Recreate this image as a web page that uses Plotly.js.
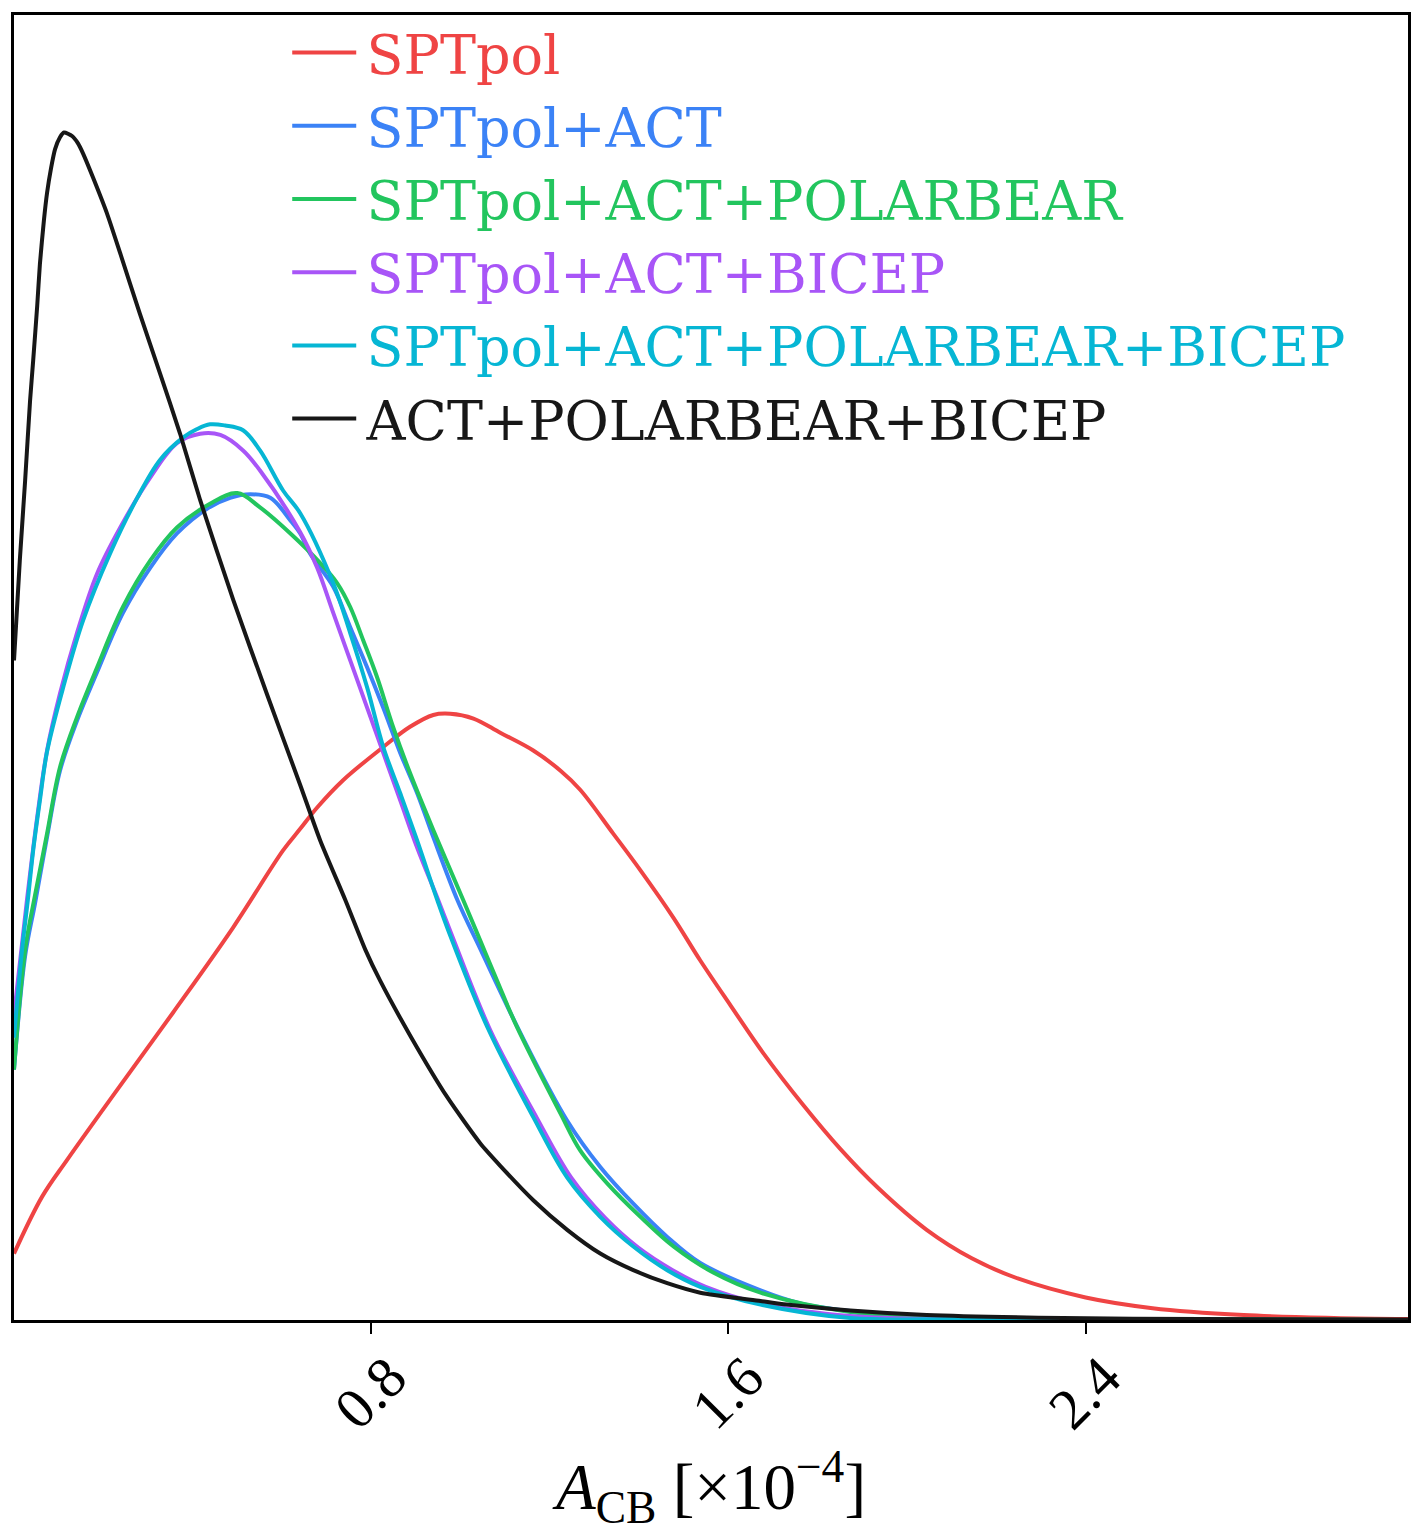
<!DOCTYPE html>
<html>
<head>
<meta charset="utf-8">
<script src="https://cdn.plot.ly/plotly-3.0.1.min.js"></script>
<style>html,body{margin:0;padding:0;background:#fff}</style>
</head>
<body>
<div id="plot" style="width:1422px;height:1533px"></div>
<script>
// A_CB posterior, units of 1e-4, densities normalised to the tallest peak
const sptpolX = [0, 0.063, 0.119, 0.231, 0.356, 0.491, 0.603, 0.641, 0.679, 0.737, 0.827, 0.887, 0.939, 0.977, 1.029, 1.089, 1.163, 1.224, 1.268, 1.342, 1.403, 1.477, 1.537, 1.605, 1.678, 1.768, 1.851, 1.936, 2.044, 2.145, 2.248, 2.400, 2.550, 2.754, 2.956, 3.124]
const sptpolY = [0.056, 0.104, 0.135, 0.194, 0.259, 0.331, 0.396, 0.414, 0.432, 0.455, 0.483, 0.500, 0.510, 0.511, 0.507, 0.495, 0.480, 0.463, 0.447, 0.410, 0.379, 0.339, 0.303, 0.265, 0.225, 0.181, 0.144, 0.111, 0.076, 0.052, 0.035, 0.019, 0.010, 0.0042, 0.0017, 0.0008]

const actX = [0, 0.025, 0.047, 0.074, 0.103, 0.141, 0.186, 0.244, 0.305, 0.365, 0.433, 0.484, 0.529, 0.574, 0.619, 0.641, 0.663, 0.715, 0.753, 0.791, 0.827, 0.865, 0.903, 0.939, 0.993, 1.044, 1.134, 1.239, 1.313, 1.387, 1.463, 1.537, 1.672, 1.761, 1.873, 2.044, 2.349, 3.124]
const actY = [0.211, 0.307, 0.351, 0.407, 0.463, 0.505, 0.546, 0.596, 0.634, 0.663, 0.684, 0.693, 0.696, 0.693, 0.674, 0.663, 0.646, 0.618, 0.584, 0.550, 0.516, 0.478, 0.444, 0.407, 0.354, 0.313, 0.242, 0.168, 0.129, 0.098, 0.070, 0.048, 0.025, 0.014, 0.0076, 0.0034, 0.0008, 0]

const pbX = [0, 0.025, 0.047, 0.074, 0.103, 0.141, 0.186, 0.244, 0.305, 0.365, 0.439, 0.500, 0.551, 0.619, 0.686, 0.724, 0.753, 0.782, 0.813, 0.849, 0.887, 0.939, 1.006, 1.044, 1.082, 1.124, 1.224, 1.268, 1.329, 1.403, 1.477, 1.566, 1.672, 1.873, 2.044, 2.349, 3.124]
const pbY = [0.211, 0.312, 0.358, 0.410, 0.466, 0.508, 0.550, 0.601, 0.640, 0.668, 0.688, 0.697, 0.685, 0.663, 0.638, 0.621, 0.601, 0.573, 0.542, 0.500, 0.461, 0.413, 0.354, 0.320, 0.286, 0.249, 0.174, 0.143, 0.115, 0.087, 0.062, 0.040, 0.023, 0.0067, 0.0025, 0.0008, 0]

const bicepX = [0, 0.029, 0.052, 0.074, 0.103, 0.141, 0.186, 0.238, 0.305, 0.365, 0.417, 0.462, 0.513, 0.551, 0.641, 0.679, 0.715, 0.753, 0.791, 0.827, 0.865, 0.903, 0.950, 0.982, 1.067, 1.170, 1.248, 1.324, 1.398, 1.475, 1.549, 1.672, 1.873, 2.145, 3.124]
const bicepY = [0.257, 0.354, 0.424, 0.480, 0.528, 0.579, 0.629, 0.668, 0.710, 0.739, 0.747, 0.746, 0.733, 0.716, 0.664, 0.634, 0.596, 0.556, 0.516, 0.478, 0.438, 0.398, 0.354, 0.323, 0.244, 0.171, 0.120, 0.086, 0.061, 0.042, 0.028, 0.014, 0.0034, 0.0008, 0]

const allX = [0, 0.018, 0.031, 0.043, 0.058, 0.074, 0.110, 0.155, 0.215, 0.276, 0.327, 0.379, 0.410, 0.439, 0.473, 0.513, 0.551, 0.603, 0.641, 0.715, 0.753, 0.791, 0.827, 0.865, 0.903, 0.948, 0.975, 1.060, 1.163, 1.239, 1.313, 1.387, 1.463, 1.537, 1.672, 1.873, 2.145, 3.124]
const allY = [0.238, 0.312, 0.354, 0.396, 0.438, 0.479, 0.533, 0.590, 0.646, 0.693, 0.725, 0.744, 0.751, 0.755, 0.754, 0.750, 0.733, 0.699, 0.680, 0.621, 0.579, 0.533, 0.483, 0.444, 0.404, 0.354, 0.326, 0.247, 0.171, 0.120, 0.087, 0.062, 0.042, 0.028, 0.013, 0.0017, 0.0008, 0]

const noSptX = [0, 0.013, 0.025, 0.036, 0.043, 0.052, 0.058, 0.067, 0.074, 0.083, 0.092, 0.103, 0.112, 0.130, 0.143, 0.155, 0.177, 0.208, 0.238, 0.282, 0.327, 0.372, 0.417, 0.491, 0.567, 0.641, 0.686, 0.742, 0.787, 0.820, 0.890, 0.970, 1.044, 1.089, 1.163, 1.239, 1.313, 1.387, 1.463, 1.537, 1.672, 1.730, 1.873, 2.044, 2.349, 2.658, 3.124]
const noSptY = [0.556, 0.640, 0.708, 0.775, 0.809, 0.855, 0.890, 0.927, 0.950, 0.971, 0.987, 0.997, 1.001, 0.998, 0.992, 0.983, 0.963, 0.933, 0.899, 0.848, 0.798, 0.747, 0.691, 0.607, 0.527, 0.451, 0.404, 0.354, 0.312, 0.286, 0.238, 0.188, 0.149, 0.130, 0.101, 0.076, 0.056, 0.042, 0.031, 0.023, 0.016, 0.013, 0.008, 0.0042, 0.0017, 0.0008, 0.0004]

const names = ['SPTpol', 'SPTpol+ACT', 'SPTpol+ACT+POLARBEAR', 'SPTpol+ACT+BICEP', 'SPTpol+ACT+POLARBEAR+BICEP', 'ACT+POLARBEAR+BICEP']
const colors = ['#ef4444', '#3b82f6', '#22c55e', '#a855f7', '#06b6d4', '#171717']
const xs = [sptpolX, actX, pbX, bicepX, allX, noSptX]
const ys = [sptpolY, actY, pbY, bicepY, allY, noSptY]

const tickVals = [0.8, 1.6, 2.4]
const tickText = ['0.8', '1.6', '2.4']

var data = []
for (var i = 0; i < names.length; i++) {
    data.push({
        x: xs[i],
        y: ys[i],
        type: 'scatter',
        mode: 'lines',
        // hair space keeps a small gap between the legend line and its text
        name: '<span style="color:' + colors[i] + '">\u200A' + names[i] + '</span>',
        line: {
            color: colors[i],
            width: 4,
            shape: 'spline',
            smoothing: i == 5 ? 0.6 : 1.0
        }
    })
}

const layout = {
    width: 1422,
    height: 1533,
    margin: {l: 14, r: 14, t: 14, b: 213},
    paper_bgcolor: '#fff',
    plot_bgcolor: '#fff',
    showlegend: true,
    legend: {
        x: 0.196,
        y: 1.0023,
        xanchor: 'left',
        yanchor: 'top',
        bgcolor: 'rgba(0,0,0,0)',
        borderwidth: 0,
        itemwidth: 64,
        font: {family: 'DejaVu Serif', size: 54, color: '#171717'}
    },
    xaxis: {
        range: [0, 3.122],
        showgrid: false,
        zeroline: false,
        showline: true,
        mirror: true,
        linecolor: '#000',
        linewidth: 3,
        ticks: 'outside',
        ticklen: 11,
        tickwidth: 2,
        tickcolor: '#000',
        tickvals: tickVals,
        ticktext: tickText,
        tickangle: -45,
        ticklabelshift: 18,
        ticklabelstandoff: -14,
        tickfont: {family: 'Liberation Serif', size: 58, color: '#000'},
        automargin: false,
        title: {
            text: '<i>A</i><sub>CB</sub> [×10<sup>−4</sup>]',
            font: {family: 'Liberation Serif', size: 65, color: '#000'},
            standoff: 12
        }
    },
    yaxis: {
        range: [0, 1.1],
        showgrid: false,
        zeroline: false,
        showline: true,
        mirror: true,
        linecolor: '#000',
        linewidth: 3,
        ticks: '',
        showticklabels: false,
        automargin: false
    }
}

Plotly.newPlot('plot', data, layout, {displayModeBar: false, staticPlot: true})
</script>
</body>
</html>
